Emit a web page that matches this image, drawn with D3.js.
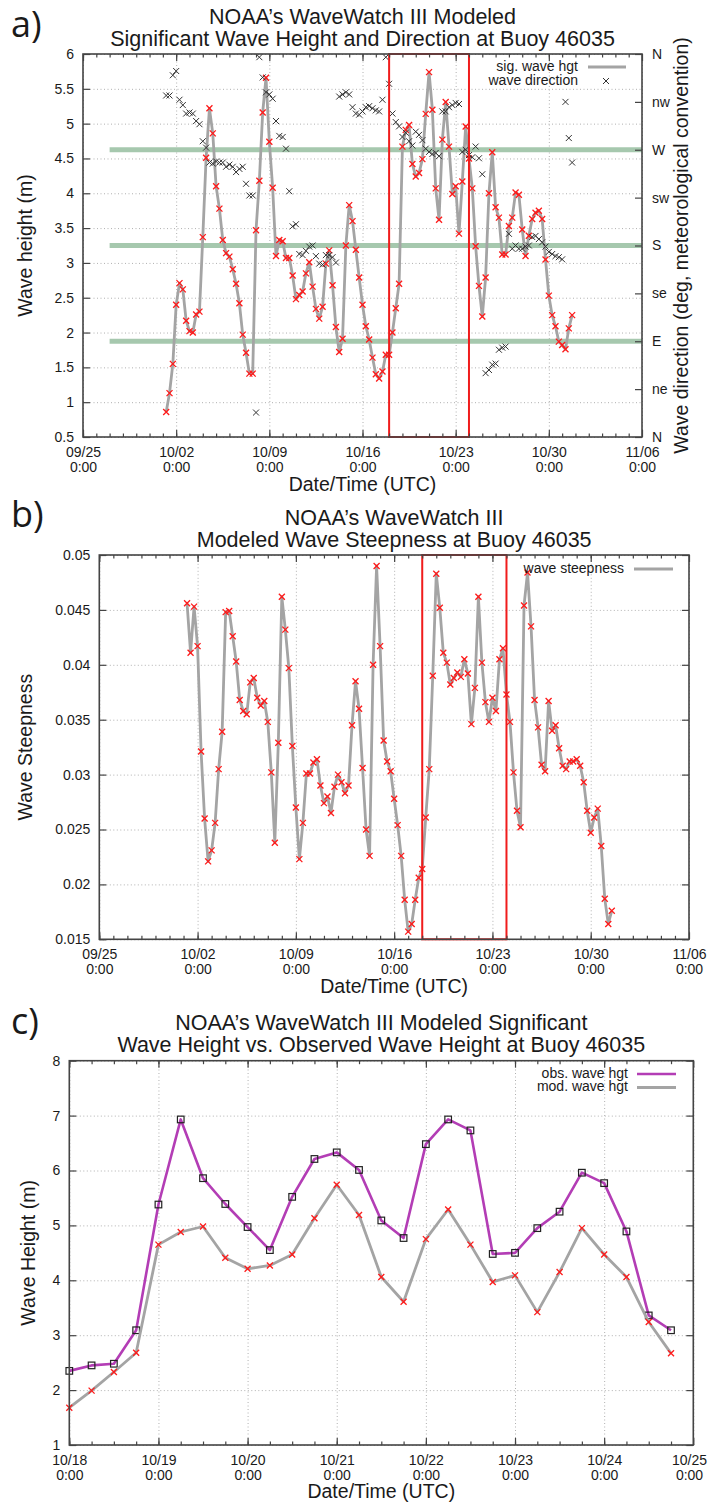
<!DOCTYPE html>
<html>
<head>
<meta charset="utf-8">
<script src="https://cdn.jsdelivr.net/npm/d3@7"></script>
<style>
  body { margin: 0; background: #fff; }
  svg { display: block; }
  text { font-family: "Liberation Sans", Arial, Helvetica, sans-serif; fill: #1a1a1a; }
  .grid line { stroke: #b0b0b0; stroke-width: 1; stroke-dasharray: 1 2.5; }
  .grid path, .axis path { display: none; }
  .axis line { stroke: #444; stroke-width: 1.2; }
  .axis text { font-size: 14px; }
</style>
</head>
<body>
<svg width="708" height="1504"></svg>
<script>
// ---------- data (6-hourly model output) ----------
const sigHgtStart = '2011-10-01T06:00'
const sigHgt = [
  0.86, 1.13, 1.55, 2.40, 2.71, 2.62, 2.17, 2.02, 2.00, 2.26,
  2.30, 3.37, 4.51, 5.22, 4.86, 4.10, 3.78, 3.33, 3.14, 3.09,
  2.91, 2.70, 2.42, 1.97, 1.71, 1.41, 1.41, 3.47, 4.18, 5.16,
  5.66, 4.74, 4.08, 3.10, 3.33, 3.31, 3.07, 3.07, 2.82, 2.48,
  2.54, 2.59, 2.85, 3.01, 2.66, 2.34, 2.20, 2.37, 2.99, 3.18,
  2.68, 2.08, 1.72, 1.91, 3.25, 3.83, 3.60, 3.19, 2.79, 2.40,
  2.09, 1.90, 1.64, 1.40, 1.34, 1.44, 1.68, 1.68, 2.00, 2.35,
  2.70, 4.67, 4.91, 4.98, 4.42, 4.24, 4.29, 4.49, 5.14, 5.74,
  5.20, 4.07, 3.62, 4.77, 5.31, 4.67, 3.99, 4.10, 3.42, 4.17,
  4.96, 4.50, 4.07, 3.24, 2.67, 2.23, 2.79, 4.00, 4.59, 3.80,
  3.65, 3.12, 3.12, 3.53, 3.65, 4.01, 3.98, 3.48, 3.10, 3.39,
  3.63, 3.72, 3.75, 3.63, 3.05, 2.53, 2.25, 2.09, 1.87, 1.82,
  1.76, 2.06, 2.25
]
const waveDir = [
  321, 321, 340, 344, 317, 312, 304, 305, 304, 297,
  294, 278, 272, 258, 257, 259, 258, 258, 254, 256,
  254, 249, 252, 254, 238, 227, 227, 23, 357, 338,
  324, 322, 318, 297, 283, 282, 271, 231, 198, 200,
  172, 171, 175, 179, 180, 170, 163, 162, 171, 171,
  169, 164, 320, 322, 324, 322, 310, 304, 303, 306,
  310, 311, 309, 307, 306, 317, 357, 332, 304, 296,
  292, 282, 286, 278, 274, 287, 284, 279, 271, 268,
  266, 267, 264, 306, 306, 310, 312, 314, 313, 268,
  270, 265, 263, 273, 262, 247, 60, 63, 68, 69,
  82, 84, 85, 191, 177, 180, 177, 177, 179, 180,
  188, 189, 186, 183, 179, 174, 172, 170, 169, 167,
  315, 281, 258
]
const steepStart = '2011-10-01T06:00'
const steepness = [
  0.0456, 0.0411, 0.0453, 0.0417, 0.0321, 0.0260, 0.0221, 0.0231, 0.0256, 0.0305,
  0.0339, 0.0448, 0.0449, 0.0426, 0.0403, 0.0368, 0.0358, 0.0355, 0.0384, 0.0388,
  0.0370, 0.0363, 0.0367, 0.0348, 0.0302, 0.0238, 0.0329, 0.0462, 0.0432, 0.0397,
  0.0326, 0.0270, 0.0223, 0.0256, 0.0301, 0.0301, 0.0311, 0.0314, 0.0290, 0.0274,
  0.0280, 0.0265, 0.0289, 0.0300, 0.0293, 0.0283, 0.0290, 0.0345, 0.0385, 0.0360,
  0.0306, 0.0250, 0.0226, 0.0400, 0.0490, 0.0417, 0.0331, 0.0312, 0.0303, 0.0278,
  0.0254, 0.0226, 0.0186, 0.0157, 0.0164, 0.0186, 0.0206, 0.0214, 0.0261, 0.0305,
  0.0390, 0.0483, 0.0452, 0.0411, 0.0402, 0.0382, 0.0388, 0.0393, 0.0389, 0.0405,
  0.0392, 0.0346, 0.0379, 0.0462, 0.0402, 0.0366, 0.0348, 0.0370, 0.0358, 0.0405,
  0.0415, 0.0373, 0.0348, 0.0302, 0.0267, 0.0252, 0.0454, 0.0484, 0.0435, 0.0368,
  0.0343, 0.0309, 0.0303, 0.0367, 0.0340, 0.0345, 0.0324, 0.0308, 0.0305, 0.0312,
  0.0312, 0.0314, 0.0308, 0.0293, 0.0267, 0.0247, 0.0261, 0.0269, 0.0235, 0.0187,
  0.0164, 0.0176
]
const compStart = '2011-10-18T00:00'
const obsHgt = [2.35, 2.45, 2.48, 3.09, 5.38, 6.93, 5.86, 5.39, 4.97, 4.55, 5.52, 6.21, 6.33, 6.01,
                5.09, 4.77, 6.48, 6.93, 6.73, 4.48, 4.50, 4.95, 5.25, 5.96, 5.77, 4.89, 3.36, 3.09]
const modHgt = [1.68, 1.99, 2.33, 2.68, 4.65, 4.88, 4.98, 4.41, 4.21, 4.27, 4.47, 5.13, 5.74, 5.19,
                4.06, 3.61, 4.75, 5.29, 4.65, 3.97, 4.09, 3.42, 4.15, 4.95, 4.47, 4.06, 3.24, 2.67]

const weekTicks = ['2011-09-25T00:00', '2011-10-02T00:00', '2011-10-09T00:00', '2011-10-16T00:00',
                   '2011-10-23T00:00', '2011-10-30T00:00', '2011-11-06T00:00']
const compDayTicks = ['2011-10-18T00:00', '2011-10-19T00:00', '2011-10-20T00:00', '2011-10-21T00:00',
                      '2011-10-22T00:00', '2011-10-23T00:00', '2011-10-24T00:00', '2011-10-25T00:00']
const hgtTicks = [0.5, 1, 1.5, 2, 2.5, 3, 3.5, 4, 4.5, 5, 5.5, 6]
const steepTicks = [0.015, 0.02, 0.025, 0.03, 0.035, 0.04, 0.045, 0.05]
const compTicks = [1, 2, 3, 4, 5, 6, 7, 8]
const dirTicks = [0, 45, 90, 135, 180, 225, 270, 315, 360]
const dirLabels = ['N', 'ne', 'E', 'se', 'S', 'sw', 'W', 'nw', 'N']
const guideDirs = [90, 180, 270]
const guideStart = '2011-09-27T00:00'
const focusWindow = ['2011-10-18T00:00', '2011-10-24T00:00']

// ---------- helpers ----------
const svg = d3.select('svg')
const parseT = d3.utcParse('%Y-%m-%dT%H:%M')
const fmtDay = d3.utcFormat('%m/%d')
const fmtHour = d3.utcFormat('%-H:%M')
const toSeries = (start, vals) => {
  const t0 = parseT(start)
  return vals.map((v, i) => ({ t: d3.utcHour.offset(t0, 6 * i), v }))
}
const crossPath = 'M-3,-3L3,3M-3,3L3,-3'

function makePanel(box) {
  const g = svg.append('g').attr('transform', `translate(${box.left},${box.top})`)
  return { g, box, w: box.right - box.left, h: box.bottom - box.top }
}

function drawGrid(p, x, y, xt, yt) {
  p.g.append('g').attr('class', 'grid').attr('transform', `translate(0,${p.h})`)
    .call(d3.axisBottom(x).tickValues(xt).tickSize(-p.h).tickFormat(''))
  p.g.append('g').attr('class', 'grid')
    .call(d3.axisLeft(y).tickValues(yt).tickSize(-p.w).tickFormat(''))
}

function drawTimeAxis(p, x, majors, minors) {
  const bottom = p.g.append('g').attr('class', 'axis').attr('transform', `translate(0,${p.h})`)
    .call(d3.axisBottom(x).tickValues(majors).tickSizeInner(-7).tickSizeOuter(0))
  // keep the label at the right edge of the page inside the window
  const edgeShift = d => Math.min(0, 706 - (p.box.left + x(d) + 17))
  bottom.selectAll('.tick text').attr('y', null).attr('dy', null).text(null)
  bottom.selectAll('.tick text').append('tspan').attr('x', edgeShift).attr('y', 20).text(d => fmtDay(d))
  bottom.selectAll('.tick text').append('tspan').attr('x', edgeShift).attr('y', 35).text(d => fmtHour(d))

  p.g.append('g').attr('class', 'axis').attr('transform', `translate(0,${p.h})`)
    .call(d3.axisBottom(x).tickValues(minors).tickSizeInner(-3.5).tickSizeOuter(0).tickFormat(''))
  p.g.append('g').attr('class', 'axis')
    .call(d3.axisTop(x).tickValues(majors).tickSizeInner(-7).tickSizeOuter(0).tickFormat(''))
  p.g.append('g').attr('class', 'axis')
    .call(d3.axisTop(x).tickValues(minors).tickSizeInner(-3.5).tickSizeOuter(0).tickFormat(''))
}

function drawYAxis(p, y, ticks, mirror) {
  p.g.append('g').attr('class', 'axis')
    .call(d3.axisLeft(y).tickValues(ticks).tickSizeInner(-7).tickSizeOuter(0).tickPadding(9).tickFormat(d3.format('~g')))
  if (mirror) {
    p.g.append('g').attr('class', 'axis').attr('transform', `translate(${p.w},0)`)
      .call(d3.axisRight(y).tickValues(ticks).tickSizeInner(-7).tickSizeOuter(0).tickFormat(''))
  }
}

function drawBorder(p) {
  p.g.append('rect').attr('width', p.w).attr('height', p.h)
    .attr('fill', 'none').attr('stroke', '#444').attr('stroke-width', 1.6)
}

function drawLine(p, data, x, y, color, width) {
  p.g.append('path').datum(data)
    .attr('d', d3.line().x(d => x(d.t)).y(d => y(d.v)))
    .attr('fill', 'none').attr('stroke', color).attr('stroke-width', width)
    .attr('stroke-linejoin', 'round')
}

function drawCrosses(p, data, x, y, color, width) {
  p.g.append('g').selectAll('path').data(data).join('path')
    .attr('transform', d => `translate(${x(d.t)},${y(d.v)})`)
    .attr('d', crossPath).attr('fill', 'none')
    .attr('stroke', color).attr('stroke-width', width)
}

function drawTitle(p, lines, y0) {
  const cx = p.w / 2
  lines.forEach((s, i) => {
    p.g.append('text').attr('x', cx).attr('y', y0 + i * 21.5 - p.box.top)
      .attr('text-anchor', 'middle').attr('font-size', 21.5).text(s)
  })
}

function drawLabels(p, xLabel, xBase, yLabel, yBase) {
  p.g.append('text').attr('x', p.w / 2).attr('y', xBase - p.box.top)
    .attr('text-anchor', 'middle').attr('font-size', 19.5).text(xLabel)
  p.g.append('text')
    .attr('transform', `translate(${yBase - p.box.left},${p.h / 2}) rotate(-90)`)
    .attr('text-anchor', 'middle').attr('font-size', 19.5).text(yLabel)
}

function panelTag(s, x, y) {
  svg.append('text').attr('x', x).attr('y', y)
    .style('font-family', '"Open Sans", "Noto Sans", sans-serif')
    .attr('font-size', 36).text(s)
}

function legendEntry(p, label, xEnd, base, sample) {
  p.g.append('text').attr('x', xEnd - p.box.left).attr('y', base - p.box.top)
    .attr('text-anchor', 'end').attr('font-size', 14).text(label)
  sample(base - 4 - p.box.top)
}

// ---------- panel a ----------
{
  const p = makePanel({ left: 83, top: 54, right: 642, bottom: 437 })
  const x = d3.scaleUtc().domain([parseT(weekTicks[0]), parseT(weekTicks[weekTicks.length - 1])]).range([0, p.w])
  const y = d3.scaleLinear().domain([0.5, 6]).range([p.h, 0])
  const yDir = d3.scaleLinear().domain([0, 360]).range([p.h, 0])
  const hgt = toSeries(sigHgtStart, sigHgt)
  const dir = toSeries(sigHgtStart, waveDir)

  drawGrid(p, x, y, weekTicks.map(parseT), hgtTicks)

  p.g.append('g').selectAll('line').data(guideDirs).join('line')
    .attr('x1', x(parseT(guideStart))).attr('x2', p.w)
    .attr('y1', d => yDir(d)).attr('y2', d => yDir(d))
    .attr('stroke', '#a6c8ae').attr('stroke-width', 5)

  drawLine(p, hgt, x, y, '#a4a4a4', 2.8)
  drawCrosses(p, hgt, x, y, '#ff1a1a', 1.3)
  drawCrosses(p, dir, x, yDir, '#333', 1)

  p.g.append('rect')
    .attr('x', x(parseT(focusWindow[0]))).attr('y', 0)
    .attr('width', x(parseT(focusWindow[1])) - x(parseT(focusWindow[0]))).attr('height', p.h)
    .attr('fill', 'none').attr('stroke', '#f01c1c').attr('stroke-width', 2)

  drawTimeAxis(p, x, weekTicks.map(parseT), d3.utcDay.range(...x.domain()))
  drawYAxis(p, y, hgtTicks, false)
  p.g.append('g').attr('class', 'axis').attr('transform', `translate(${p.w},0)`)
    .call(d3.axisRight(yDir).tickValues(dirTicks).tickSizeInner(-7).tickSizeOuter(0).tickPadding(10)
      .tickFormat((d, i) => dirLabels[i]))
  drawBorder(p)

  drawTitle(p, ['NOAA\u2019s WaveWatch III Modeled', 'Significant Wave Height and Direction at Buoy 46035'], 24)
  drawLabels(p, 'Date/Time (UTC)', 491, 'Wave height (m)', 32)
  p.g.append('text')
    .attr('transform', `translate(${688 - p.box.left},${p.h / 2}) rotate(-90)`)
    .attr('text-anchor', 'middle').attr('font-size', 19.5)
    .text('Wave direction (deg, meteorological convention)')

  legendEntry(p, 'sig. wave hgt', 578, 71, yy => {
    p.g.append('line').attr('x1', 588 - p.box.left).attr('x2', 626 - p.box.left)
      .attr('y1', yy).attr('y2', yy).attr('stroke', '#a4a4a4').attr('stroke-width', 2.8)
  })
  legendEntry(p, 'wave direction', 578, 85, yy => {
    p.g.append('path').attr('transform', `translate(${606 - p.box.left},${yy})`)
      .attr('d', crossPath).attr('stroke', '#333').attr('stroke-width', 1)
  })
  panelTag('a)', 11, 37)
}

// ---------- panel b ----------
{
  const p = makePanel({ left: 99.3, top: 555, right: 689, bottom: 939.3 })
  const x = d3.scaleUtc().domain([parseT(weekTicks[0]), parseT(weekTicks[weekTicks.length - 1])]).range([0, p.w])
  const y = d3.scaleLinear().domain([0.015, 0.05]).range([p.h, 0])
  const st = toSeries(steepStart, steepness)

  drawGrid(p, x, y, weekTicks.map(parseT), steepTicks)
  drawLine(p, st, x, y, '#a4a4a4', 2.8)
  drawCrosses(p, st, x, y, '#ff1a1a', 1.3)

  p.g.append('rect')
    .attr('x', x(parseT(focusWindow[0]))).attr('y', 0)
    .attr('width', x(parseT(focusWindow[1])) - x(parseT(focusWindow[0]))).attr('height', p.h)
    .attr('fill', 'none').attr('stroke', '#f01c1c').attr('stroke-width', 2)

  drawTimeAxis(p, x, weekTicks.map(parseT), d3.utcDay.range(...x.domain()))
  drawYAxis(p, y, steepTicks, true)
  drawBorder(p)

  drawTitle(p, ['NOAA\u2019s WaveWatch III', 'Modeled Wave Steepness at Buoy 46035'], 525)
  drawLabels(p, 'Date/Time (UTC)', 993, 'Wave Steepness', 32)
  legendEntry(p, 'wave steepness', 624, 573, yy => {
    p.g.append('line').attr('x1', 634 - p.box.left).attr('x2', 673 - p.box.left)
      .attr('y1', yy).attr('y2', yy).attr('stroke', '#a4a4a4').attr('stroke-width', 2.8)
  })
  panelTag('b)', 11, 527)
}

// ---------- panel c ----------
{
  const p = makePanel({ left: 69.3, top: 1060.7, right: 693.3, bottom: 1445 })
  const x = d3.scaleUtc().domain([parseT(compDayTicks[0]), parseT(compDayTicks[compDayTicks.length - 1])]).range([0, p.w])
  const y = d3.scaleLinear().domain([1, 8]).range([p.h, 0])
  const obs = toSeries(compStart, obsHgt)
  const mod = toSeries(compStart, modHgt)

  drawGrid(p, x, y, compDayTicks.map(parseT), compTicks)

  drawLine(p, obs, x, y, '#b33db5', 2.6)
  p.g.append('g').selectAll('rect').data(obs).join('rect')
    .attr('x', d => x(d.t) - 3.3).attr('y', d => y(d.v) - 3.3)
    .attr('width', 6.6).attr('height', 6.6)
    .attr('fill', 'none').attr('stroke', '#222').attr('stroke-width', 1.2)
  drawLine(p, mod, x, y, '#a4a4a4', 2.8)
  drawCrosses(p, mod, x, y, '#ff1a1a', 1.3)

  drawTimeAxis(p, x, compDayTicks.map(parseT), d3.utcHour.every(6).range(...x.domain()))
  drawYAxis(p, y, compTicks, true)
  drawBorder(p)

  drawTitle(p, ['NOAA\u2019s WaveWatch III Modeled Significant', 'Wave Height vs. Observed Wave Height at Buoy 46035'], 1030)
  drawLabels(p, 'Date/Time (UTC)', 1498, 'Wave Height (m)', 35)
  legendEntry(p, 'obs. wave hgt', 628, 1078, yy => {
    p.g.append('line').attr('x1', 637 - p.box.left).attr('x2', 676 - p.box.left)
      .attr('y1', yy).attr('y2', yy).attr('stroke', '#b33db5').attr('stroke-width', 2.6)
  })
  legendEntry(p, 'mod. wave hgt', 628, 1091.5, yy => {
    p.g.append('line').attr('x1', 637 - p.box.left).attr('x2', 676 - p.box.left)
      .attr('y1', yy).attr('y2', yy).attr('stroke', '#a4a4a4').attr('stroke-width', 2.8)
  })
  panelTag('c)', 11, 1034)
}
</script>
</body>
</html>
